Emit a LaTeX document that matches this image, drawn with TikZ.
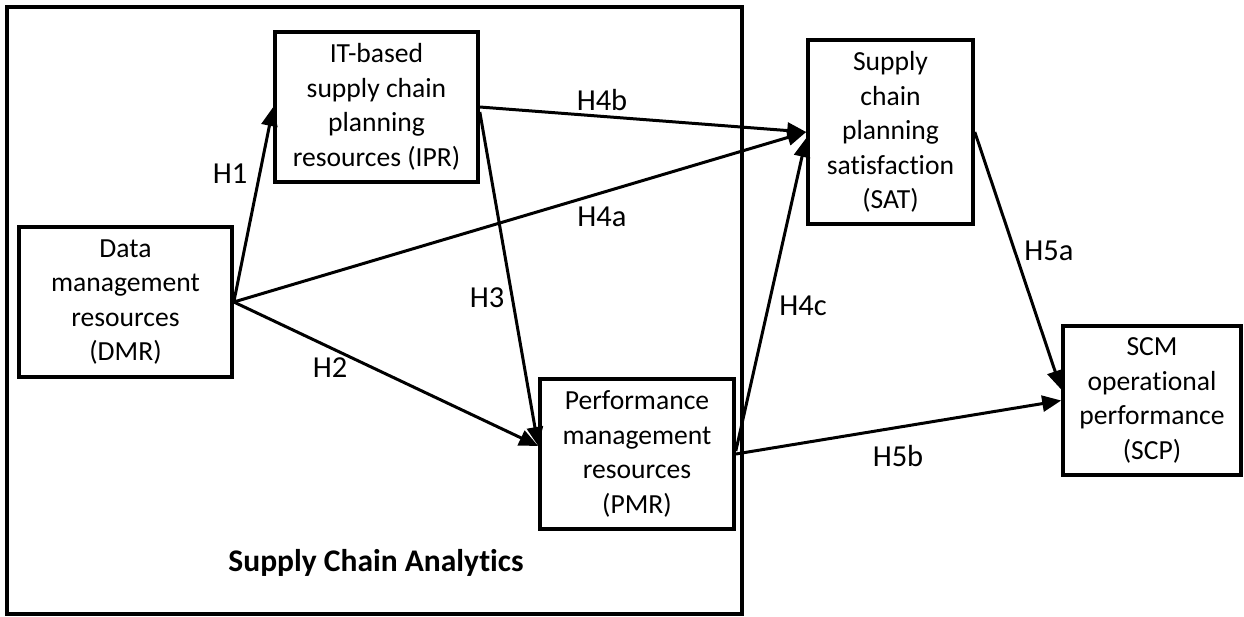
\documentclass[tikz,border=0pt]{standalone}
\usepackage{fontspec}
\setmainfont{Carlito}[Ligatures=CommonOff]
\usetikzlibrary{arrows.meta}
\begin{document}
\begin{tikzpicture}[x=1pt,y=-1pt,
  box/.style={draw, line width=3.6pt, rectangle, align=center, inner sep=0pt,
    font=\fontsize{27.6}{34.5}\selectfont},
  lbl/.style={font=\fontsize{30.5}{34.5}\selectfont, inner sep=0pt},
  arr/.style={line width=3pt, -{Triangle[length=19pt,width=16pt]}},
  frame/.style={draw, line width=3.2pt}]
\useasboundingbox (0,0) rectangle (1244,616);
\node[frame, minimum width=735pt, minimum height=607pt, inner sep=0pt] (SCA) at (374.5,310.5) {};
\node[font=\fontsize{31.5}{34.5}\selectfont\bfseries, inner sep=0pt] (scat) at (376,563) {Supply Chain Analytics};
\node[box, minimum width=203pt, minimum height=150pt] (IPR) at (376.5,107) {IT-based\\supply chain\\planning\\resources (IPR)};
\node[box, minimum width=213pt, minimum height=150pt] (DMR) at (125.5,302) {Data\\management\\resources\\(DMR)};
\node[box, minimum width=194pt, minimum height=150pt] (PMR) at (637,454) {Performance\\management\\resources\\(PMR)};
\node[box, minimum width=165pt, minimum height=184pt] (SAT) at (890.5,132) {Supply\\chain\\planning\\satisfaction\\(SAT)};
\node[box, minimum width=178pt, minimum height=149pt] (SCP) at (1152,400.5) {SCM\\operational\\performance\\(SCP)};
\draw[arr] (DMR.east) -- (IPR.west);
\draw[arr] (DMR.east) -- (SAT.west);
\draw[arr] (DMR.east) -- ([yshift=8pt]PMR.west);
\draw[arr] ([yshift=-5pt]IPR.east) -- ([yshift=8pt]PMR.west);
\draw[arr] (IPR.east) -- (SAT.west);
\draw[arr] ([yshift=3pt]PMR.east) -- ([yshift=-6pt]SAT.west);
\draw[arr] (PMR.east) -- (SCP.west);
\draw[arr] (SAT.east) -- ([yshift=11pt]SCP.west);
\node[lbl] (h1) at (230,174) {H1};
\node[lbl] (h2) at (330,368) {H2};
\node[lbl] (h3) at (487,298) {H3};
\node[lbl] (h4a) at (602,217) {H4a};
\node[lbl] (h4b) at (602,100) {H4b};
\node[lbl] (h4c) at (803,306) {H4c};
\node[lbl] (h5a) at (1049,251) {H5a};
\node[lbl] (h5b) at (898,456) {H5b};
\end{tikzpicture}
\end{document}
